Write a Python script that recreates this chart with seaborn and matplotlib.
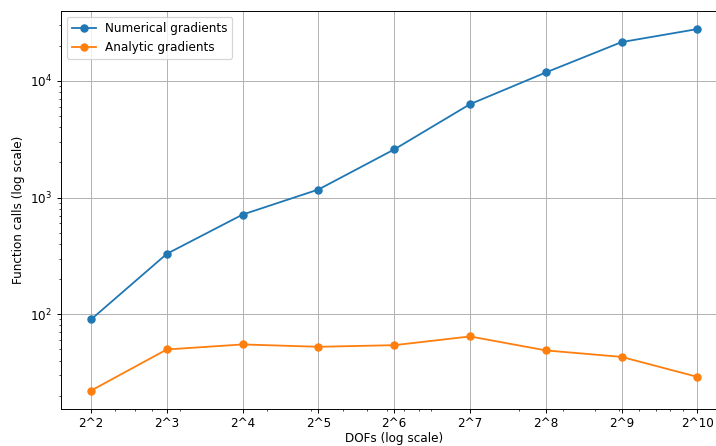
import matplotlib
matplotlib.use("Agg")
import matplotlib.pyplot as plt
import seaborn as sns
import pandas as pd

# Degrees of freedom (powers of two) and the function-call counts per method
exponents = [2, 3, 4, 5, 6, 7, 8, 9, 10]
dofs = [2 ** e for e in exponents]
tick_labels = [f"2^{e}" for e in exponents]
numerical_calls = [90, 329, 714, 1171, 2583, 6310, 11800, 21500, 27800]
analytic_calls = [22.1, 49.8, 55, 52.5, 54.2, 64.4, 48.9, 43, 29]

df = pd.DataFrame({
    "dofs": dofs * 2,
    "calls": numerical_calls + analytic_calls,
    "method": ["Numerical gradients"] * len(dofs) + ["Analytic gradients"] * len(dofs),
})

DPI = 86.5
fig = plt.figure(figsize=(716 / DPI, 446 / DPI), dpi=DPI)
ax = fig.add_axes([60.7 / 716, 1 - 408.7 / 446, 667 / 716, 397.7 / 446])

colors = {"Numerical gradients": "#1f77b4", "Analytic gradients": "#ff7f0e"}
for name in ["Numerical gradients", "Analytic gradients"]:
    sub = df[df["method"] == name]
    sns.lineplot(data=sub, x="dofs", y="calls", ax=ax, marker="o", color=colors[name],
                 label=name, markersize=6, markeredgecolor=colors[name],
                 markeredgewidth=1, linewidth=1.5)

ax.set_xscale("log")
ax.set_yscale("log")
ax.set_xticks(dofs)
ax.set_xticklabels(tick_labels)
ax.grid(True, which="major", color="#b0b0b0", linewidth=0.8)
ax.set_axisbelow(True)
ax.set_xlabel("DOFs (log scale)", labelpad=1.2)
ax.set_ylabel("Function calls (log scale)")
ax.legend(loc="upper left")

fig.savefig("out.png", dpi=DPI)
